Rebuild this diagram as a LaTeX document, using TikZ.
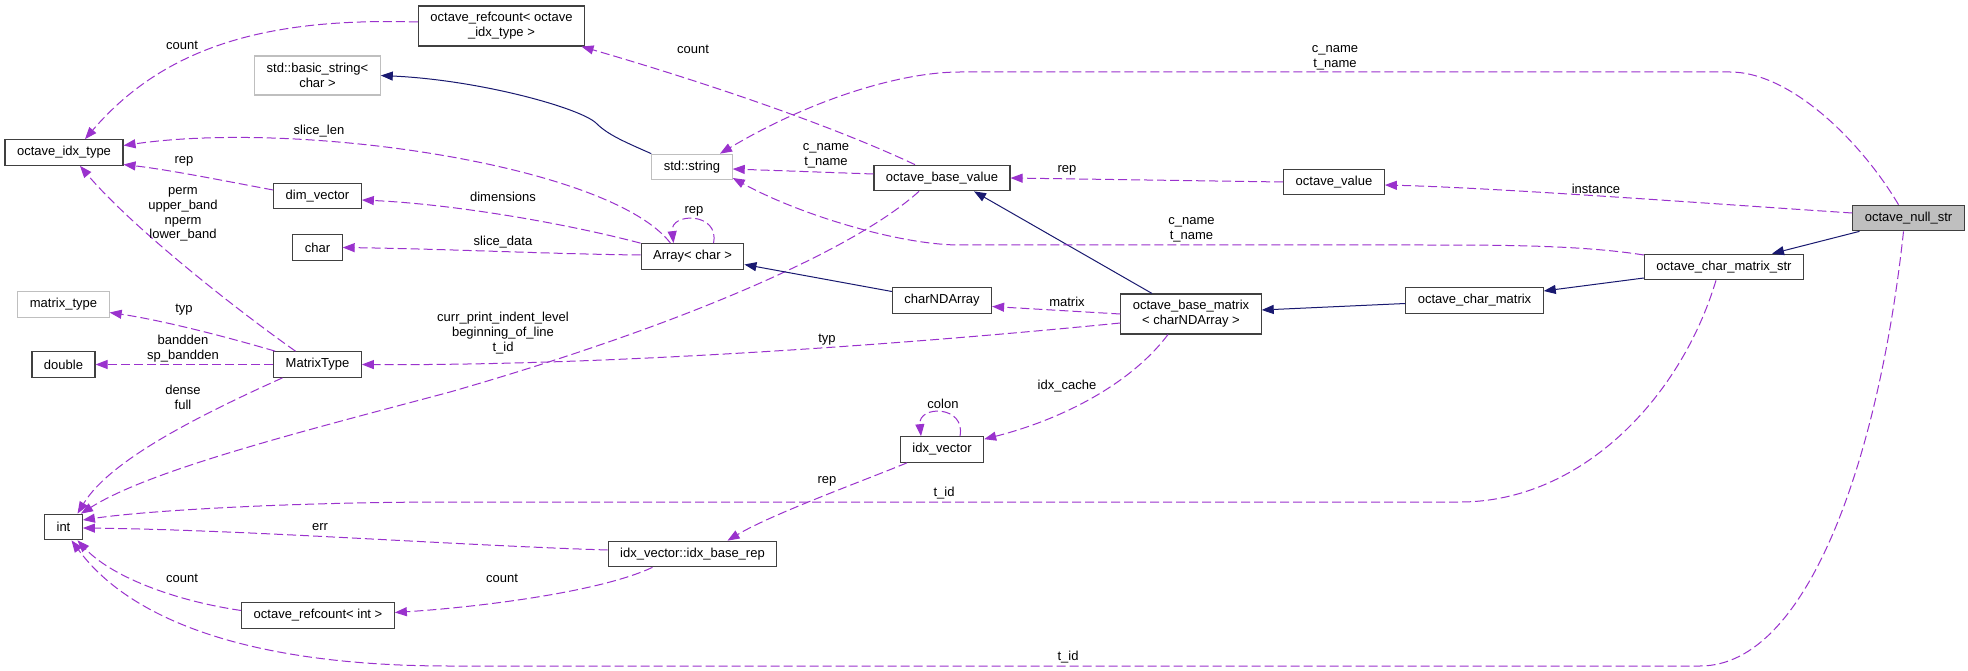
\documentclass[tikz,border=0pt]{standalone}
\usepackage{fontspec}
\setmainfont{Liberation Sans}
\usetikzlibrary{arrows.meta}
\definecolor{usecol}{HTML}{9A32CD}
\definecolor{inhcol}{HTML}{191970}
\definecolor{grayb}{HTML}{BFBFBF}
\definecolor{bordc}{HTML}{404040}
\begin{document}
\begin{tikzpicture}[x=1pt,y=-1pt,
  every node/.style={font=\fontsize{13}{14.8}\selectfont},
  cls/.style={draw=bordc, line width=1.1pt, fill=white, inner xsep=12pt, inner ysep=0pt, minimum height=25.6pt, align=center},
  ext/.style={cls, draw=grayb},
  tall/.style={minimum height=40pt},
  lbl/.style={inner sep=0pt, align=center},
  use/.style={draw=usecol, line width=1pt, dash pattern=on 9pt off 4pt, -{Triangle[length=12pt,width=9pt]}},
  inh/.style={draw=inhcol, line width=1pt, -{Triangle[length=12pt,width=9pt]}}]
\useasboundingbox (0,0) rectangle (1968,671);
\fill[white] (0,0) rectangle (1968,671);
% nodes
\node[cls] (oit) at (64,152.5) {octave\_idx\_type};
\node[cls,tall] (rcoit) at (501.5,26) {octave\_refcount< octave\\\_idx\_type >};
\node[ext,tall,minimum height=39pt] (bstr) at (317.5,75.5) {std::basic\_string<\\char >};
\node[cls] (dimv) at (317.5,196) {dim\_vector};
\node[cls] (char) at (317.5,247.5) {char};
\node[ext] (mtype) at (63.5,304.5) {matrix\_type};
\node[cls] (dbl) at (63.5,364.5) {double};
\node[cls] (MT) at (317.5,364.5) {MatrixType};
\node[cls] (int) at (63.5,527) {int};
\node[cls] (rcint) at (318,615.5) {octave\_refcount< int >};
\node[ext] (sstr) at (692,167) {std::string};
\node[cls] (arr) at (692.5,256.5) {Array< char >};
\node[cls] (ibr) at (692.5,554) {idx\_vector::idx\_base\_rep};
\node[cls] (obv) at (942,178) {octave\_base\_value};
\node[cls] (ov) at (1334,182) {octave\_value};
\node[cls] (cnd) at (942,300.5) {charNDArray};
\node[cls,tall] (obm) at (1191,314) {octave\_base\_matrix\\< charNDArray >};
\node[cls] (iv) at (942,449.5) {idx\_vector};
\node[cls] (ocm) at (1474.5,300.5) {octave\_char\_matrix};
\node[cls] (ocms) at (1724,267) {octave\_char\_matrix\_str};
\node[cls,fill=grayb] (ons) at (1908.5,218) {octave\_null\_str};
% edges
\draw[use] ([yshift=4pt]rcoit.west) .. controls (280,18) and (170,40) .. ([xshift=21pt]oit.north);
\draw[inh] (sstr.north west) .. controls (625,142) and (608,135) .. (596,123) .. controls (580,108) and (480,80) .. (bstr.east);
\draw[use] ([xshift=-27pt]obv.north) .. controls (820,120) and (680,75) .. ([xshift=80pt]rcoit.south);
\draw[use] ([xshift=-22pt]arr.north) .. controls (610,165) and (300,120) .. ([yshift=7pt]oit.east);
\draw[use] ([yshift=6pt]dimv.west) .. controls (220,180) and (170,170) .. ([yshift=-12pt]oit.east);
\draw[use] (arr.north west) .. controls (560,222) and (450,204) .. ([yshift=-4pt]dimv.east);
\draw[use] ([yshift=1.5pt]arr.west) .. controls (550,254) and (450,249) .. (char.east);
\draw[use] ([xshift=21pt]arr.north) .. controls (720,212) and (670,212) .. ([xshift=-19pt]arr.north);
\draw[use] ([xshift=-22pt]MT.north) .. controls (230,305) and (130,225) .. ([xshift=16pt]oit.south);
\draw[use] ([xshift=2pt]MT.north west) .. controls (220,335) and (160,320) .. ([yshift=-8pt]mtype.east);
\draw[use] (MT.west) -- (dbl.east);
\draw[use] ([xshift=-35pt]MT.south) .. controls (200,415) and (110,460) .. ([xshift=14pt]int.north);
\draw[use] ([xshift=-23pt]obv.south) .. controls (860,245) and (700,320) .. (450,392) .. controls (300,432) and (150,470) .. ([xshift=-2pt]int.north east);
\draw[use] ([yshift=-9pt]obm.west) .. controls (900,345) and (600,366) .. (MT.east);
\draw[use] (obm.west) -- ([yshift=-6pt]cnd.east);
\draw[inh] ([xshift=-39pt]obm.north) -- ([xshift=32pt]obv.south);
\draw[inh] ([yshift=9pt]cnd.west) -- ([yshift=-8pt]arr.east);
\draw[use] ([xshift=-23pt]obm.south) .. controls (1130,385) and (1060,420) .. ([yshift=-3pt]iv.north east);
\draw[use] ([xshift=18pt]iv.north) .. controls (966,405) and (918,405) .. ([xshift=-21pt]iv.north);
\draw[use] ([xshift=-35pt]iv.south) .. controls (860,482) and (770,515) .. ([xshift=35pt]ibr.north);
\draw[use] ([yshift=4pt]ibr.west) .. controls (450,545) and (250,530) .. ([yshift=-1pt]int.east);
\draw[use] ([xshift=-40pt]ibr.south) .. controls (600,592) and (480,607) .. ([yshift=3pt]rcint.east);
\draw[use] ([yshift=5pt]rcint.west) .. controls (170,600) and (110,575) .. ([xshift=14pt]int.south);
\draw[use] ([xshift=-8pt]ocms.south) .. controls (1680,400) and (1580,502) .. (1460,502) -- (450,502) .. controls (300,502) and (150,510) .. ([yshift=7pt]int.east);
\draw[use] ([xshift=-5pt]ons.south) .. controls (1880,450) and (1810,666) .. (1700,666) -- (450,666) .. controls (250,666) and (130,620) .. ([xshift=8pt]int.south);
\draw[use] ([xshift=-10pt]ons.north) .. controls (1860,140) and (1790,72) .. (1730,72) -- (960,72) .. controls (900,72) and (810,100) .. ([xshift=28pt]sstr.north);
\draw[use] ([yshift=4pt]obv.west) -- ([yshift=-2pt]sstr.east);
\draw[use] ([yshift=12pt]ocms.west) .. controls (1580,245) and (1500,245) .. (1420,245) -- (960,245) .. controls (900,245) and (800,215) .. ([yshift=-11pt]sstr.east);
\draw[use] (ov.west) -- (obv.east);
\draw[use] ([yshift=5pt]ons.west) .. controls (1700,203) and (1500,188) .. ([yshift=-3pt]ov.east);
\draw[inh] ([xshift=-49pt]ons.south) -- ([xshift=48pt]ocms.north);
\draw[inh] ([yshift=-11pt]ocms.west) -- ([yshift=9.5pt]ocm.east);
\draw[inh] ([yshift=-3pt]ocm.west) -- ([yshift=4pt]obm.east);
% labels
\node[lbl] (l1) at (182,45) {count};
\node[lbl] (l3) at (693,49) {count};
\node[lbl] (l4) at (319,131) {slice\_len};
\node[lbl] (l5) at (184,161) {rep};
\node[lbl] (l6) at (503,197) {dimensions};
\node[lbl] (l7) at (503,242) {slice\_data};
\node[lbl] (l8) at (694,211) {rep};
\node[lbl] (l9) at (183,214.5) {perm\\upper\_band\\nperm\\lower\_band};
\node[lbl] (l10) at (184,310) {typ};
\node[lbl] (l11) at (183,349) {bandden\\sp\_bandden};
\node[lbl] (l12) at (183,397) {dense\\full};
\node[lbl] (l13) at (503,333) {curr\_print\_indent\_level\\beginning\_of\_line\\t\_id};
\node[lbl] (l14) at (827,340) {typ};
\node[lbl] (l15) at (1067,302) {matrix};
\node[lbl] (l18) at (1067,386) {idx\_cache};
\node[lbl] (l19) at (943,404) {colon};
\node[lbl] (l20) at (827,481) {rep};
\node[lbl] (l21) at (320,527) {err};
\node[lbl] (l22) at (502,578) {count};
\node[lbl] (l23) at (182,578) {count};
\node[lbl] (l24) at (944,493) {t\_id};
\node[lbl] (l25) at (1068,657) {t\_id};
\node[lbl] (l26) at (1335,57.5) {c\_name\\t\_name};
\node[lbl] (l27) at (826,156) {c\_name\\t\_name};
\node[lbl] (l28) at (1191.5,229.5) {c\_name\\t\_name};
\node[lbl] (l29) at (1067,170) {rep};
\node[lbl] (l30) at (1596,189) {instance};
\end{tikzpicture}
\end{document}
